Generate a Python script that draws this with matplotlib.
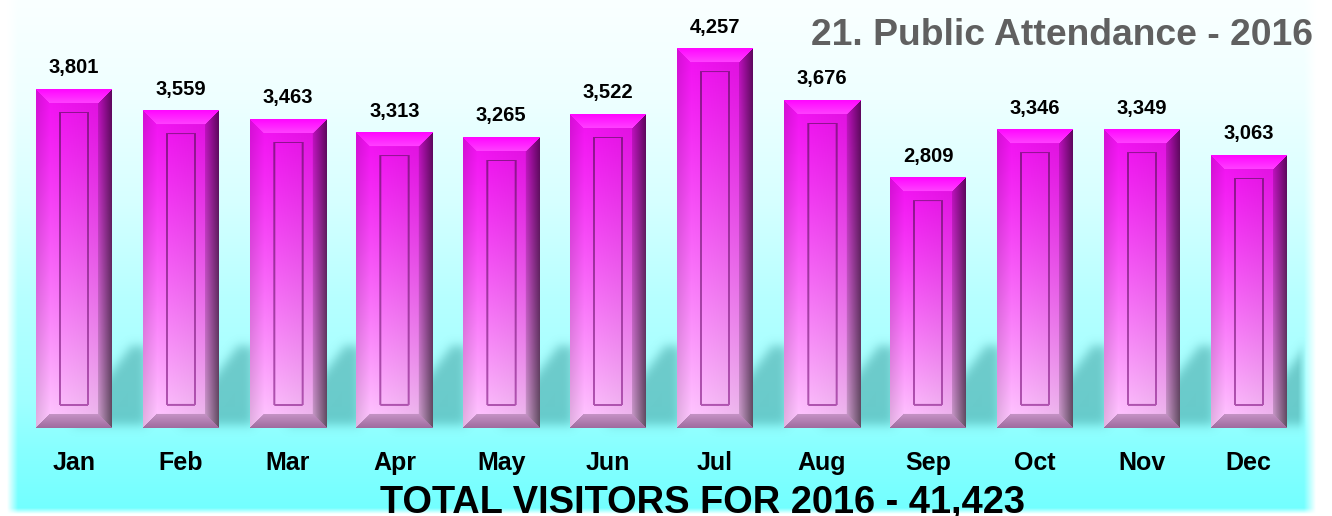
import numpy as np
import matplotlib
matplotlib.use("Agg")
import matplotlib.pyplot as plt
from matplotlib.path import Path

# ---------------- data ----------------
months = ["Jan", "Feb", "Mar", "Apr", "May", "Jun",
          "Jul", "Aug", "Sep", "Oct", "Nov", "Dec"]
visitors = [3801, 3559, 3463, 3313, 3265, 3522,
            4257, 3676, 2809, 3346, 3349, 3063]
title_text = "21. Public Attendance - 2016"
footer_text = "TOTAL VISITORS FOR 2016 - 41,423"

# ---------------- layout ----------------
W, H = 1332, 516
DPI = 100
plt.rcParams['font.family'] = ['Liberation Sans', 'DejaVu Sans']

fig = plt.figure(figsize=(W / DPI, H / DPI), dpi=DPI)
ax = fig.add_axes([0, 0, 1, 1])
ax.axis('off')

x_step_px = 106.8
x0_px = 74.0
ppu = 0.0891          # px per visitor
base_px = 428.0       # baseline from top
ax.set_xlim(-x0_px / x_step_px, (W - x0_px) / x_step_px)
ax.set_ylim(-(H - base_px) / ppu, base_px / ppu)
xlim = ax.get_xlim()
ylim = ax.get_ylim()
bar_w = 76.0 / x_step_px

xs = np.arange(len(months))


def to_px(x, y):
    d = ax.transData.transform(np.column_stack([x, y]))
    return d[:, 0], H - d[:, 1]


# ---------------- background ----------------
yy, xx = np.mgrid[0:H, 0:W] + 0.5
rch = np.interp(yy, [0, 100, 200, 300, 400, 450, 516],
                [250, 238, 215, 182, 160, 135, 112]) / 255.0
bg = np.ones((H, W, 4))
bg[..., 0] = rch
bg[..., 1] = 1.0
bg[..., 2] = 1.0
# soft edges fading to white
fade = np.clip((xx - 7) / 11.0, 0, 1) * np.clip((1316 - xx) / 12.0, 0, 1) \
    * np.clip((514 - yy) / 6.0, 0, 1)
for c in range(3):
    bg[..., c] = bg[..., c] * fade + (1 - fade)
ax.imshow(bg, extent=(xlim[0], xlim[1], ylim[0], ylim[1]), origin='upper',
          zorder=0, interpolation='nearest', aspect='auto')

# ---------------- shadows ----------------
mask = np.zeros((H, W))
pts = np.column_stack([xx.ravel(), yy.ravel()])
for i, v in enumerate(visitors):
    lx, by = to_px([i - bar_w / 2, i + bar_w / 2], [0, 0])
    l, r = lx[0], lx[1]
    b = by[0] - 3
    poly = Path([(r - 40, b), (r + 34, b), (r + 34, b - 78), (r + 20, b - 80)])
    mask = np.maximum(mask, poly.contains_points(pts).reshape(H, W).astype(float))

sig = 5.0
k = np.arange(-18, 19)
ker = np.exp(-k ** 2 / (2 * sig ** 2))
ker /= ker.sum()
mask = np.apply_along_axis(lambda m: np.convolve(m, ker, mode='same'), 1, mask)
mask = np.apply_along_axis(lambda m: np.convolve(m, ker, mode='same'), 0, mask)
mask *= np.clip((1306 - xx) / 8.0, 0, 1)
sh = np.zeros((H, W, 4))
sh[..., 0] = 70 / 255
sh[..., 1] = 168 / 255
sh[..., 2] = 168 / 255
sh[..., 3] = mask * 0.6
ax.imshow(sh, extent=(xlim[0], xlim[1], ylim[0], ylim[1]), origin='upper',
          zorder=1, interpolation='bilinear', aspect='auto')


# ---------------- bars ----------------
def bar_image(wpx, hpx):
    bv = 14.5
    yv, xv = np.mgrid[0:hpx, 0:wpx] + 0.5
    t = yv / hpx
    g = 0.06 + 0.74 * t ** 1.2
    rb = 0.95 + 0.05 * t
    body = np.stack([rb, g, rb], -1)
    hf = 1.0 - 0.07 * np.clip((xv - bv) / (wpx - 2 * bv), 0, 1)
    img = body * hf[..., None]

    fromb = hpx - yv
    top = (yv < bv) & (yv <= xv) & (yv <= wpx - xv)
    bot = (fromb < bv) & (fromb <= xv) & (fromb <= wpx - xv)
    left = (xv < bv) & ~top & ~bot
    right = (wpx - xv < bv) & ~top & ~bot

    lf = 0.88 + 0.12 * (xv / bv)
    img = np.where(left[..., None], body * lf[..., None], img)
    rf = 0.80 - 0.42 * (1 - (wpx - xv) / bv)
    img = np.where(right[..., None], body * rf[..., None], img)
    tt = yv / bv
    topc = np.stack([np.ones_like(t), 0.02 + 0.24 * tt, np.ones_like(t)], -1)
    img = np.where(top[..., None], topc, img)
    bt = fromb / bv
    botc = np.stack([0.62 + 0.16 * bt, 0.42 + 0.16 * bt, 0.62 + 0.16 * bt], -1)
    img = np.where(bot[..., None], botc, img)

    il, ir = 24, wpx - 24
    it, ib = 23.5, hpx - 23
    line = np.zeros_like(t, dtype=bool)
    inside_x = (xv > il - 0.5) & (xv < ir + 0.5)
    inside_y = (yv > it - 0.5) & (yv < ib + 0.5)
    line |= (np.abs(xv - il) < 0.6) & inside_y
    line |= (np.abs(xv - ir) < 0.6) & inside_y
    line |= (np.abs(yv - it) < 0.6) & inside_x
    line |= (np.abs(yv - ib) < 0.6) & inside_x
    linec = np.stack([0.55 + 0.15 * t, 0.05 + 0.3 * t, 0.55 + 0.15 * t], -1)
    img = np.where(line[..., None], linec, img)
    return np.clip(img, 0, 1)


for i, v in enumerate(visitors):
    px, py = to_px([i - bar_w / 2, i + bar_w / 2], [v, 0])
    wpx = int(round(px[1] - px[0]))
    hpx = int(round(py[1] - py[0]))
    img = bar_image(wpx, hpx)
    ax.imshow(img, extent=(i - bar_w / 2, i + bar_w / 2, 0, v), origin='upper',
              zorder=3, interpolation='bilinear', aspect='auto')
    ax.annotate(f"{v:,}", (i, v), xytext=(0, 11.5), textcoords='offset points',
                ha='center', va='baseline', fontsize=14.5, fontweight='bold',
                color='black', zorder=5)
    ax.annotate(months[i], (i, 0), xytext=(0, -30.2), textcoords='offset points',
                ha='center', va='baseline', fontsize=18, fontweight='bold',
                color='black', zorder=5)

ax.set_xlim(xlim)
ax.set_ylim(ylim)

fig.text(1313 / W, (H - 45) / H, title_text, ha='right', va='baseline',
         fontsize=26.8, fontweight='bold', color='#606060')
fig.text(703 / W, (H - 513) / H, footer_text, ha='center', va='baseline',
         fontsize=27.4, fontweight='bold', color='black')

fig.savefig("out.png", dpi=DPI)
